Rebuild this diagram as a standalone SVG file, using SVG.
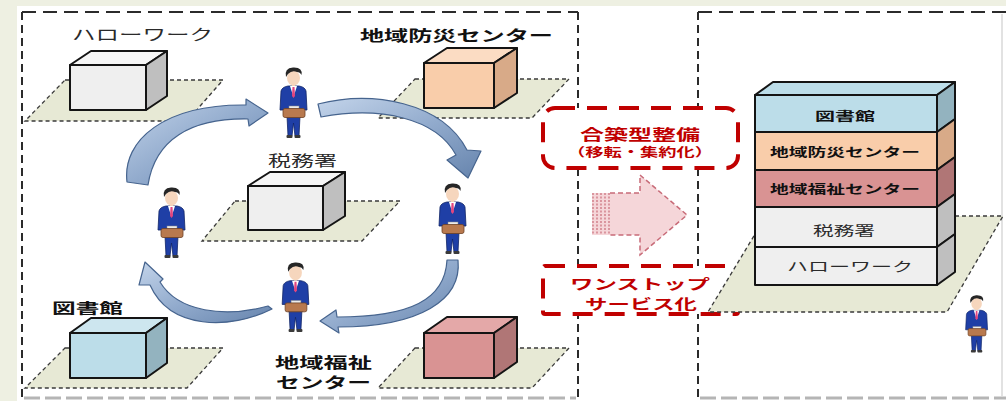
<svg xmlns="http://www.w3.org/2000/svg" xmlns:xlink="http://www.w3.org/1999/xlink" width="1006" height="401" viewBox="0 0 1006 401">
  <style>
    .panel { fill: none; stroke: #2b2b2b; stroke-width: 2; }
    .panel-h { stroke-dasharray: 14 7; }
    .panel-v { stroke-dasharray: 8 5; }
    .panel-b { fill: none; stroke: #b5b5b5; stroke-width: 3; stroke-dasharray: 16 5; }
    .plane { fill: #e7e9d5; stroke: #3a3a3a; stroke-width: 1.3; stroke-dasharray: 4 3; }
    .edge { stroke: #141414; stroke-width: 2; stroke-linejoin: round; }
    .jp { font-family: "Noto Sans CJK JP", "Noto Sans", sans-serif; }
    .lt { font-weight: 400; fill: #2a2a2a; }
    .bd { font-weight: 700; fill: #111; }
    .red { font-weight: 700; fill: #c00000; }
    .redbox { fill: #fff; stroke: #c00000; stroke-width: 4; stroke-dasharray: 20 12; }
    .flow { fill: url(#flowGrad); stroke: #46648e; stroke-width: 1.2; stroke-linejoin: round; }
  </style>
  <defs>
    <linearGradient id="flowGrad" x1="0" y1="0" x2="1" y2="1">
      <stop offset="0" stop-color="#c3d4ea"/>
      <stop offset="0.5" stop-color="#92abcd"/>
      <stop offset="1" stop-color="#6684ad"/>
    </linearGradient>
    <symbol id="person" viewBox="0 0 32 75">
      <path d="M9,50 L22,50 L21,70 L17,70 L15.5,57 L14,70 L10,70 Z" fill="#1f3fa6" stroke="#102566" stroke-width="0.8"/>
      <rect x="8.5" y="69" width="6" height="3" rx="1" fill="#3a3a3a"/>
      <rect x="16.5" y="69" width="6" height="3" rx="1" fill="#3a3a3a"/>
      <path d="M3,25 Q4,21 10,20 L21,20 Q27,21 28,25 L29,44 L24,44 L23,51 L8,51 L7,44 L2,44 Z" fill="#1f3fa6" stroke="#102566" stroke-width="0.8"/>
      <polygon points="12,20 15.5,31 19,20" fill="#fff"/>
      <polygon points="14.5,21 16.5,21 17,30 15.5,32 14,30" fill="#e2457e"/>
      <rect x="14" y="16" width="3" height="4" fill="#f3cfb4"/>
      <ellipse cx="15.5" cy="12" rx="6.5" ry="7.5" fill="#f6d6bd"/>
      <path d="M8,11 Q6,2 15,1.5 Q25,1 23.5,9 Q22,6 19,6 Q14,4 10,8 Z" fill="#262626"/>
      <rect x="11" y="40" width="10" height="3" fill="#ececec" stroke="#888" stroke-width="0.5"/>
      <rect x="5" y="42.5" width="22" height="9" rx="2" fill="#b8794e" stroke="#6e4326" stroke-width="0.8"/>
    </symbol>
  </defs>

  <!-- page -->
  <rect x="0" y="0" width="1006" height="401" fill="#eef0e2"/>
  <rect x="17" y="6" width="989" height="395" fill="#ffffff"/>

  <!-- panel frames -->
  <g id="frames">
    <line class="panel panel-h" x1="22" y1="12" x2="578" y2="12"/>
    <line class="panel panel-v" x1="22" y1="12" x2="22" y2="401"/>
    <line class="panel panel-v" x1="578" y1="12" x2="578" y2="401"/>
    <line class="panel-b" x1="24" y1="398" x2="576" y2="398"/>
    <line class="panel panel-h" x1="698" y1="12" x2="1006" y2="12"/>
    <line class="panel panel-v" x1="698" y1="12" x2="698" y2="401"/>
    <line x1="1002" y1="14" x2="1002" y2="396" stroke="#d8d8d8" stroke-width="1.5"/>
    <line class="panel-b" x1="700" y1="398" x2="1006" y2="398"/>
  </g>

  <!-- separate facilities -->
  <g id="n-hellowork">
    <polygon class="plane" points="65,80 223,80 187,121 25,121"/>
    <polygon class="edge" points="70,65 91,51 167,51 146,65" fill="#f6f6f6"/>
    <polygon class="edge" points="146,65 167,51 167,96 146,110" fill="#bfbfbf"/>
    <rect class="edge" x="70" y="65" width="76" height="45" fill="#efefef"/>
    <text class="jp lt" x="72" y="40" font-size="15" textLength="141" lengthAdjust="spacingAndGlyphs">ハローワーク</text>
  </g>

  <g id="n-bousai">
    <polygon class="plane" points="415,79 569,79 532,118 378,118"/>
    <polygon class="edge" points="424,63 447,48 517,48 494,63" fill="#fbdcc3"/>
    <polygon class="edge" points="494,63 517,48 517,93 494,108" fill="#d8aa88"/>
    <rect class="edge" x="424" y="63" width="70" height="45" fill="#f9cdaa"/>
    <text class="jp bd" x="360" y="41" font-size="15" textLength="193" lengthAdjust="spacingAndGlyphs">地域防災センター</text>
  </g>

  <g id="n-zeimusho">
    <polygon class="plane" points="235,201 400,201 362,241 202,241"/>
    <polygon class="edge" points="248,186 270,172 345,172 323,186" fill="#f6f6f6"/>
    <polygon class="edge" points="323,186 345,172 345,216 323,230" fill="#bfbfbf"/>
    <rect class="edge" x="248" y="186" width="75" height="44" fill="#efefef"/>
    <text class="jp lt" x="268" y="166" font-size="15" textLength="69" lengthAdjust="spacingAndGlyphs">税務署</text>
  </g>

  <g id="n-toshokan">
    <polygon class="plane" points="65,348 223,348 187,388 25,388"/>
    <polygon class="edge" points="70,333 91,318 167,318 146,333" fill="#cde6ef"/>
    <polygon class="edge" points="146,333 167,318 167,363 146,378" fill="#93b3bf"/>
    <rect class="edge" x="70" y="333" width="76" height="45" fill="#bcdde9"/>
    <text class="jp bd" x="52" y="313" font-size="14" textLength="71" lengthAdjust="spacingAndGlyphs">図書館</text>
  </g>

  <g id="n-fukushi">
    <polygon class="plane" points="415,348 569,348 532,388 378,388"/>
    <polygon class="edge" points="424,333 447,317 517,317 494,333" fill="#e4a8a8"/>
    <polygon class="edge" points="494,333 517,317 517,362 494,378" fill="#b07676"/>
    <rect class="edge" x="424" y="333" width="70" height="45" fill="#d99393"/>
    <text class="jp bd" x="275" y="368" font-size="15" textLength="97" lengthAdjust="spacingAndGlyphs">地域福祉</text>
    <text class="jp bd" x="276" y="388" font-size="15" textLength="95" lengthAdjust="spacingAndGlyphs">センター</text>
  </g>

  <!-- visitors going round between offices -->
  <g id="n-visitors">
    <use xlink:href="#person" href="#person" x="278" y="66" width="32" height="75"/>
    <use xlink:href="#person" href="#person" x="156" y="186" width="32" height="75"/>
    <use xlink:href="#person" href="#person" x="437" y="182" width="32" height="75"/>
    <use xlink:href="#person" href="#person" x="280" y="261" width="32" height="74"/>
  </g>

  <!-- connectors: the round trip and the consolidation arrow -->
  <g id="connectors">
    <path class="flow" d="M127,182 C122,140 165,104 246,105 L246,99 L268,113 L249,126 L248,119 C190,118 155,140 148,185 Z"/>
    <path class="flow" d="M318,104 C372,90 442,102 467,150 L481,151 L468,178 L447,160 L456,155 C436,118 380,106 321,117 Z"/>
    <path class="flow" d="M458,260 C462,300 420,327 338,327 L339,333 L320,321 L336,310 L337,317 C410,317 445,300 447,260 Z"/>
    <path class="flow" d="M272,309 C230,330 170,330 150,285 L139,285 L145,262 L163,279 L160,282 C178,312 225,318 268,306 Z"/>

    <g id="e-consolidate">
      <path d="M592,193 L640,193 L640,175 L687,215 L640,255 L640,235 L592,235 Z" fill="#f5d6d9"/>
      <path d="M610,193 L640,193 L640,175 L687,215 L640,255 L640,235 L610,235" fill="none" stroke="#c86b78" stroke-width="1.5" stroke-dasharray="5 3"/>
      <g stroke="#c86b78" stroke-width="1.2" stroke-dasharray="2 1.5">
        <line x1="593" y1="193" x2="593" y2="235"/>
        <line x1="597" y1="193" x2="597" y2="235"/>
        <line x1="601" y1="193" x2="601" y2="235"/>
        <line x1="605" y1="193" x2="605" y2="235"/>
        <line x1="609" y1="193" x2="609" y2="235"/>
      </g>
    </g>
  </g>

  <!-- consolidation labels -->
  <g id="n-gouchiku">
    <rect class="redbox" x="543" y="108" width="195" height="60" rx="12"/>
    <text class="jp red" x="580" y="140" font-size="15" textLength="120" lengthAdjust="spacingAndGlyphs">合築型整備</text>
    <text class="jp red" x="567" y="157" font-size="12" textLength="146" lengthAdjust="spacingAndGlyphs">（移転・集約化）</text>
  </g>
  <g id="n-onestop">
    <rect class="redbox" x="543" y="266" width="195" height="48" rx="2"/>
    <text class="jp red" x="570" y="289" font-size="14" textLength="140" lengthAdjust="spacingAndGlyphs">ワンストップ</text>
    <text class="jp red" x="585" y="309" font-size="14" textLength="112" lengthAdjust="spacingAndGlyphs">サービス化</text>
  </g>

  <!-- combined facility -->
  <g id="n-complex">
    <polygon class="plane" points="766,216 1003,216 947,312 708,312"/>
    <polygon class="edge" points="755,95 773,82 955,82 937,95" fill="#bcdde9"/>
    <polygon class="edge" points="937,95 955,82 955,119 937,132" fill="#93b3bf"/>
    <polygon class="edge" points="937,132 955,119 955,157 937,170" fill="#d8aa88"/>
    <polygon class="edge" points="937,170 955,157 955,194 937,207" fill="#b07676"/>
    <polygon class="edge" points="937,207 955,194 955,234 937,247" fill="#bfbfbf"/>
    <polygon class="edge" points="937,247 955,234 955,272 937,285" fill="#bfbfbf"/>
    <rect class="edge" x="755" y="95" width="182" height="37" fill="#bcdde9"/>
    <rect class="edge" x="755" y="132" width="182" height="38" fill="#f9cdaa"/>
    <rect class="edge" x="755" y="170" width="182" height="37" fill="#d99393"/>
    <rect class="edge" x="755" y="207" width="182" height="40" fill="#efefef"/>
    <rect class="edge" x="755" y="247" width="182" height="38" fill="#efefef"/>
    <text class="jp bd" x="815" y="121" font-size="12" textLength="60" lengthAdjust="spacingAndGlyphs">図書館</text>
    <text class="jp bd" x="770" y="157" font-size="12" textLength="150" lengthAdjust="spacingAndGlyphs">地域防災センター</text>
    <text class="jp bd" x="770" y="194" font-size="12" textLength="150" lengthAdjust="spacingAndGlyphs">地域福祉センター</text>
    <text class="jp lt" x="813" y="235" font-size="13" textLength="62" lengthAdjust="spacingAndGlyphs">税務署</text>
    <text class="jp lt" x="787" y="271" font-size="13" textLength="126" lengthAdjust="spacingAndGlyphs">ハローワーク</text>
  </g>

  <g id="n-visitor-complex">
    <use xlink:href="#person" href="#person" x="964" y="294" width="26" height="61"/>
  </g>
</svg>
